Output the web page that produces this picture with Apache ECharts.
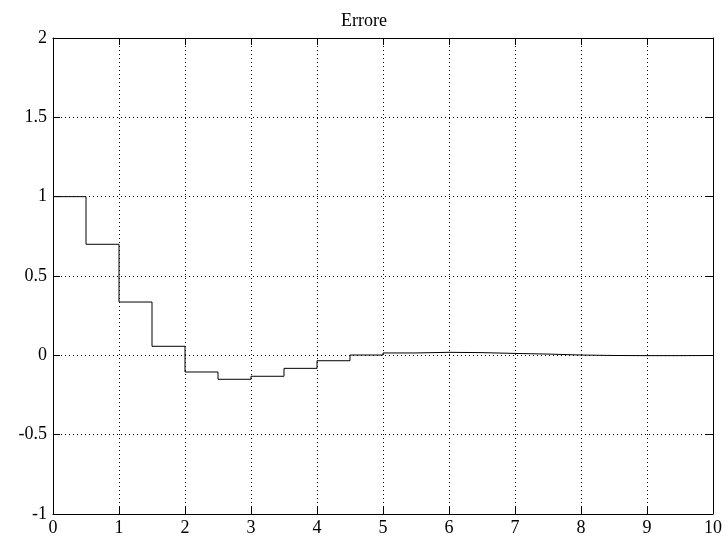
<!DOCTYPE html>
<html>
<head>
<meta charset="utf-8">
<script src="https://cdn.jsdelivr.net/npm/echarts@6/dist/echarts.min.js"></script>
<style>html,body{margin:0;padding:0;background:#fff;}#c{width:728px;height:540px;}</style>
</head>
<body>
<div id="c"></div>
<script>
const titleText = 'Errore';
const sampleTimes = [0,0.5,1,1.5,2,2.5,3,3.5,4,4.5,5,5.5,6,6.5,7,7.5,8,8.5,9,9.5,10];
const errorValues = [1,0.70,0.336,0.057,-0.105,-0.151,-0.132,-0.082,-0.034,0.002,0.015,0.019,0.017,0.012,0.008,0.002,-0.001,-0.002,-0.002,-0.001,-0.001];

const chart = echarts.init(document.getElementById('c'), null, {renderer:'canvas'});
const font = 'Liberation Serif';
const axisLine = {show:true, onZero:false, lineStyle:{color:'#000', width:1}};
const tick = {show:true, inside:true, length:7, lineStyle:{color:'#000', width:1}};
const gridLine = {show:true, lineStyle:{color:'#000', type:[1,3], width:1}};
chart.setOption({
  animation:false,
  backgroundColor:'#fff',
  title:{text:titleText, left:'center', top:7, textStyle:{fontFamily:font, fontSize:18, fontWeight:'normal', color:'#000'}},
  grid:{left:53, right:15, top:38, bottom:26},
  xAxis:[
    {type:'value', min:0, max:10, interval:1, position:'bottom',
     axisLine:axisLine, axisTick:tick,
     axisLabel:{fontFamily:font, fontSize:18, color:'#000', margin:5},
     splitLine:gridLine},
    {type:'value', min:0, max:10, interval:1, position:'top',
     axisLine:axisLine, axisTick:tick,
     axisLabel:{show:false}, splitLine:{show:false}}
  ],
  yAxis:[
    {type:'value', min:-1, max:2, interval:0.5, position:'left',
     axisLine:axisLine, axisTick:tick,
     axisLabel:{fontFamily:font, fontSize:18, color:'#000', margin:6},
     splitLine:gridLine},
    {type:'value', min:-1, max:2, interval:0.5, position:'right',
     axisLine:axisLine, axisTick:tick,
     axisLabel:{show:false}, splitLine:{show:false}}
  ],
  series:[{
    type:'line', step:'end', showSymbol:false, symbol:'none',
    xAxisIndex:0, yAxisIndex:0,
    lineStyle:{color:'#000', width:1},
    data: sampleTimes.map((t,i)=>[t, errorValues[i]])
  }]
});
</script>
</body>
</html>
